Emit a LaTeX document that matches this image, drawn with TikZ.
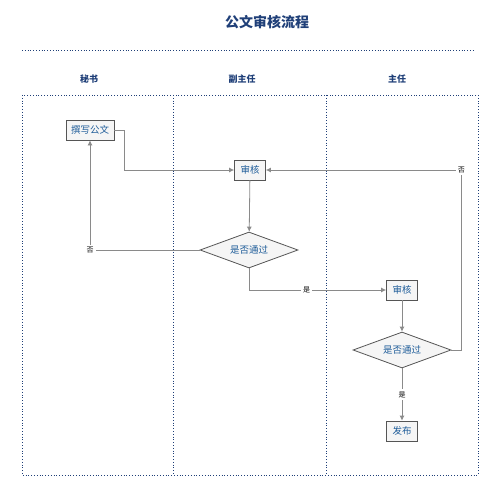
\documentclass[tikz,border=0pt]{standalone}
\usepackage{fontspec}
\setmainfont{Noto Sans CJK SC}
\usepackage{tikz}
\usetikzlibrary{arrows.meta,shapes.geometric}
\definecolor{flowInk}{HTML}{1F3F78}
\definecolor{flowText}{HTML}{1E5C99}
\definecolor{flowLine}{HTML}{8A8A8A}
\definecolor{flowEdge}{HTML}{555555}
\definecolor{flowFill}{HTML}{F5F5F5}

\begin{document}
\begin{tikzpicture}[
  x=1pt,y=-1pt,
  font=\fontsize{9.5}{11}\selectfont,
  box/.style={draw=flowEdge,thick,fill=flowFill,text=flowText,minimum height=20pt,minimum width=31pt,inner xsep=5pt,inner ysep=2pt},
  dia/.style={diamond,aspect=2.8,draw=flowEdge,thick,fill=flowFill,text=flowText,inner sep=1pt,minimum width=98pt,minimum height=36pt},
  arr/.style={-{Latex[length=5pt,width=5pt]},flowLine,thick},
  lbl/.style={fill=white,text=black,font=\fontsize{7}{8}\selectfont,inner sep=2pt},
  lane/.style={draw=flowInk,dotted,thick},
  head/.style={text=flowInk,font=\fontsize{9}{10}\selectfont\bfseries}
]
\useasboundingbox (0,0) rectangle (499,500);
% title and lanes
\node[text=flowInk,font=\fontsize{14}{16}\selectfont\bfseries] (title) at (267,22) {公文审核流程};
\draw[lane] (22,50) -- (475,50);
\node[head] (sec) at (89,79)  {秘书};
\node[head] (dep) at (242,79) {副主任};
\node[head] (dir) at (397,79) {主任};
\draw[lane] (22,95) rectangle (478,475);
\draw[lane] (173,95) -- (173,475);
\draw[lane] (326,95) -- (326,475);
% steps
\node[box] (write) at (90,130)  {撰写公文};
\node[box] (rev1)  at (250,170) {审核};
\node[dia] (dec1)  at (249,250) {是否通过};
\node[box] (rev2)  at (402,290) {审核};
\node[dia] (dec2)  at (402,350) {是否通过};
\node[box] (pub)   at (402,431) {发布};
% flow
\draw[arr] (write.east) -- ++(10,0) |- (rev1.west);
\draw[arr] (rev1) -- (dec1);
\draw[arr] (dec1.west) -| node[lbl,pos=0.5] {否} (write.south);
\draw[arr] (dec1.south) |- node[lbl,pos=0.71] {是} (rev2.west);
\draw[arr] (rev2) -- (dec2);
\draw[arr] (dec2.east) -- ++(10,0) |- node[lbl,pos=0.5] {否} (rev1.east);
\draw[arr] (dec2) -- node[lbl] {是} (pub);
\end{tikzpicture}
\end{document}
